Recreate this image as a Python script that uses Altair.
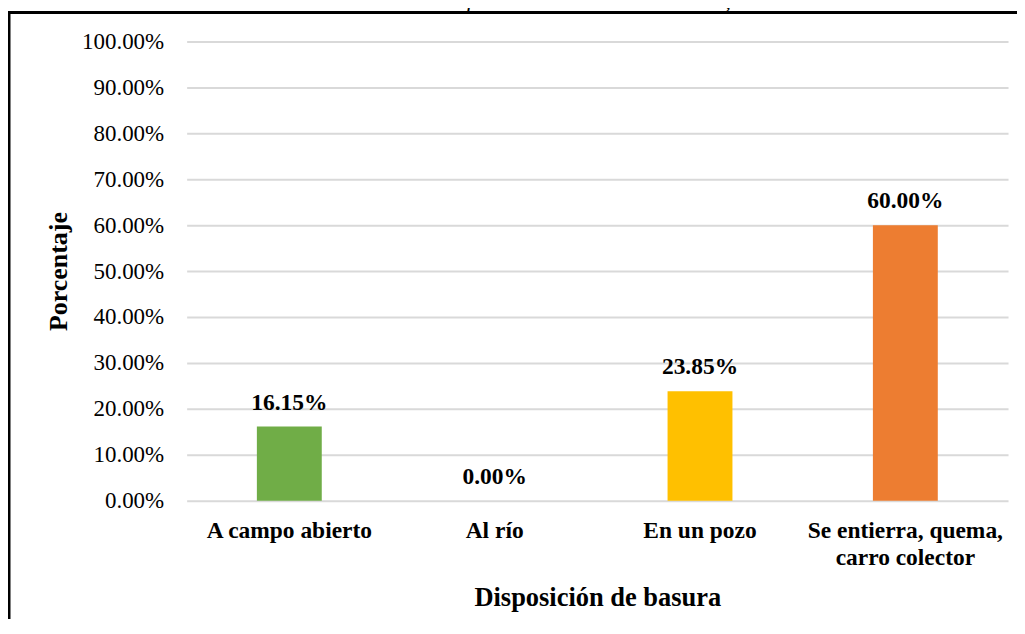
import altair as alt
import pandas as pd

categories = ["A campo abierto", "Al río", "En un pozo", "Se entierra, quema, carro colector"]
values = [0.1615, 0.0, 0.2385, 0.60]
colors = ["#70AD47", "#5B9BD5", "#FFC000", "#ED7D31"]
y_ticks = [0.0, 0.1, 0.2, 0.3, 0.4, 0.5, 0.6, 0.7, 0.8, 0.9, 1.0]
title_text = "de 5 años en el centro poblado de Toclla -Huaraz, 2019"
x_title = "Disposición de basura"
y_title = "Porcentaje"

FONT = "Liberation Serif"

df = pd.DataFrame({"cat": categories, "val": values})

label_expr = (
    "datum.label == 'Se entierra, quema, carro colector' ? "
    "['Se entierra, quema,', 'carro colector'] : datum.label"
)

x_enc = alt.X(
    "cat:N",
    sort=categories,
    title=x_title,
    scale=alt.Scale(paddingInner=0.684, paddingOuter=0.342),
    axis=alt.Axis(
        labelAngle=0,
        labelFont=FONT,
        labelFontSize=23.5,
        labelFontWeight="bold",
        labelColor="black",
        labelPadding=18,
        labelLineHeight=27,
        labelExpr=label_expr,
        labelOverlap=False,
        labelLimit=0,
        ticks=False,
        tickSize=0,
        domain=False,
        titleFont=FONT,
        titleFontSize=26.5,
        titleFontWeight="bold",
        titleColor="black",
        titleBaseline="alphabetic",
        titleY=105,
    ),
)

y_enc = alt.Y(
    "val:Q",
    scale=alt.Scale(domain=[0, 1], nice=False),
    title=y_title,
    axis=alt.Axis(
        values=y_ticks,
        format=".2%",
        labelFont=FONT,
        labelFontSize=23,
        labelColor="black",
        labelPadding=23,
        ticks=False,
        tickSize=0,
        domain=False,
        grid=True,
        gridColor="#d9d9d9",
        gridWidth=2,
        titleFont=FONT,
        titleFontSize=26,
        titleFontWeight="bold",
        titleColor="black",
        titleBaseline="alphabetic",
        titleX=-120,
    ),
)

base = alt.Chart(df).encode(x=x_enc, y=y_enc)

bars = base.mark_bar().encode(
    color=alt.Color("cat:N", scale=alt.Scale(domain=categories, range=colors), legend=None)
)

labels = base.mark_text(
    font=FONT, fontSize=23.5, fontWeight="bold", baseline="alphabetic", dy=-17, color="black"
).encode(text=alt.Text("val:Q", format=".2%"))

one = alt.Data(values=[{"k": 1}])

left_border = alt.Chart(one).mark_rule(color="black", strokeWidth=3).encode(
    x=alt.value(-178), y=alt.value(-29), y2=alt.value(700)
)
top_border = alt.Chart(one).mark_rule(color="black", strokeWidth=3).encode(
    x=alt.value(-180), x2=alt.value(900), y=alt.value(-29)
)
title_mark = alt.Chart(one).mark_text(
    font=FONT, fontSize=24, fontStyle="italic", color="black", align="center", baseline="alphabetic"
).encode(x=alt.value(332), y=alt.value(-34), text=alt.value(title_text))

chart = (
    alt.layer(bars, labels, left_border, top_border, title_mark)
    .properties(
        width=823,
        height=460,
        autosize=alt.AutoSizeParams(type="none"),
        padding={"left": 179, "top": 33, "right": 9, "bottom": 118},
        background="white",
    )
    .configure_view(stroke=None)
)

chart.save("out.html", embed_options={"renderer": "svg", "actions": False})
